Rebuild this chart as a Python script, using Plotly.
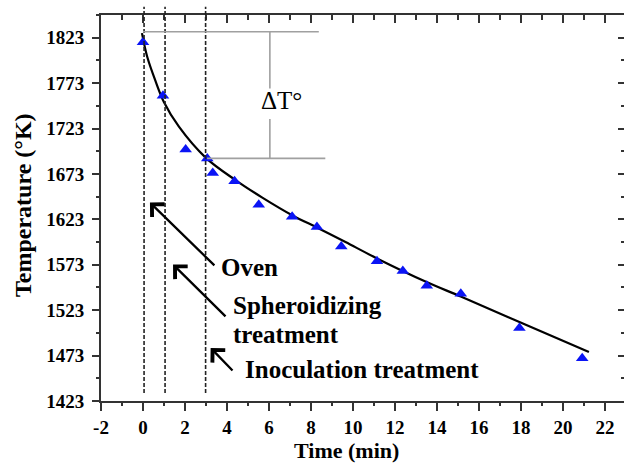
import plotly.graph_objects as go

# measured points (time in min, temperature in K)
time_pts = [0.0, 0.95, 2.03, 3.06, 3.32, 4.36, 5.51, 7.1, 8.28, 9.44, 11.14, 12.37, 13.51, 15.13, 17.92, 20.91]
temp_pts = [1818, 1759, 1700, 1690, 1674, 1665, 1639, 1626, 1614.5, 1593, 1577, 1566, 1550, 1541, 1503.5, 1470]

# fitted curve
fit_time = [-0.05, 0.2, 0.6, 1.0, 1.71, 2.98, 4.42, 5.68, 7.1, 8.37, 9.64, 11.14, 13.5, 15.13, 17.92, 21.23]
fit_temp = [1828, 1802, 1775, 1752, 1725, 1691, 1666, 1647, 1627.6, 1613, 1598, 1580, 1554, 1538, 1510, 1477]

# process stage markers (vertical dashed lines)
stage_times = [0.05, 1.05, 2.98]

x_ticks = [-2, 0, 2, 4, 6, 8, 10, 12, 14, 16, 18, 20, 22]
x_labels = ["-2", "0", "2", "4", "6", "8", "10", "12", "14", "16", "18", "20", "22"]
y_ticks = [1423, 1473, 1523, 1573, 1623, 1673, 1723, 1773, 1823]

FONT = "Liberation Serif"
AX = "#333333"

# plot-area geometry in pixels (for converting title positions)
W, H = 624, 464
L, R, T, B = 101, 0, 15, 63
PW, PH = W - L - R, H - T - B

fig = go.Figure()
fig.add_trace(go.Scatter(x=fit_time, y=fit_temp, mode="lines",
                         line=dict(color="black", width=2.2, shape="spline", smoothing=1.0),
                         showlegend=False, hoverinfo="skip"))
fig.add_trace(go.Scatter(x=time_pts, y=temp_pts, mode="markers",
                         marker=dict(symbol="triangle-up", size=11, color="#0a14f5"),
                         showlegend=False))
# dummy trace for mirrored (inside-tick) top/right axes
fig.add_trace(go.Scatter(x=[None], y=[None], xaxis="x2", yaxis="y2", showlegend=False, hoverinfo="skip"))

xr = [-2, 22.9]
yr = [1423, 1848]

fig.update_layout(
    width=W, height=H,
    margin=dict(l=L, r=R, t=T, b=B),
    paper_bgcolor="white", plot_bgcolor="white",
    font=dict(family=FONT, color="black"),
    xaxis=dict(range=xr, tickvals=x_ticks, ticktext=x_labels, ticks="outside", ticklen=8, tickwidth=2,
               tickcolor=AX, showline=True, linecolor=AX, linewidth=2, showgrid=False, zeroline=False,
               minor=dict(dtick=1, tick0=0, ticks="outside", ticklen=3, tickwidth=2, tickcolor=AX),
               tickfont=dict(family=FONT, size=19, weight="bold", color="black"),
               automargin=False),
    yaxis=dict(range=yr, tickvals=y_ticks, ticks="outside", ticklen=7, tickwidth=2, tickcolor=AX,
               showline=True, linecolor=AX, linewidth=2, showgrid=False, zeroline=False,
               minor=dict(dtick=25, tick0=1423, ticks="outside", ticklen=3, tickwidth=2, tickcolor=AX),
               tickfont=dict(family=FONT, size=19, weight="bold", color="black"),
               ticklabelstandoff=4,
               automargin=False),
    xaxis2=dict(range=xr, overlaying="x", side="top", anchor="y2", tickvals=x_ticks, ticks="inside", ticklen=8,
                tickwidth=2, tickcolor=AX, showline=True, linecolor=AX, linewidth=2, showgrid=False,
                zeroline=False, showticklabels=False,
                minor=dict(dtick=1, tick0=0, ticks="inside", ticklen=5, tickwidth=2, tickcolor=AX)),
    yaxis2=dict(range=yr, overlaying="y", side="right", anchor="x2", tickvals=y_ticks, ticks="inside", ticklen=6,
                tickwidth=2, tickcolor=AX, showline=True, linecolor=AX, linewidth=2, showgrid=False,
                zeroline=False, showticklabels=False,
                minor=dict(dtick=25, tick0=1423, ticks="inside", ticklen=3, tickwidth=2, tickcolor=AX)),
)

# axis titles (paper coords are relative to the plot area)
fig.add_annotation(x=(346 - L) / PW, y=(H - B - 450) / PH, xref="paper", yref="paper", text="Time (min)",
                   showarrow=False, xanchor="center", yanchor="middle",
                   font=dict(family=FONT, size=22, weight="bold", color="black"))
fig.add_annotation(x=(23 - L) / PW, y=(H - B - 205) / PH, xref="paper", yref="paper", text="Temperature (°K)",
                   showarrow=False, xanchor="center", yanchor="middle", textangle=-90,
                   font=dict(family=FONT, size=24, weight="bold", color="black"))

# vertical dashed stage lines (extend slightly above the frame)
for t in stage_times:
    fig.add_shape(type="line", xref="x", yref="paper", x0=t, x1=t, y0=0.0207, y1=1.0215,
                  line=dict(color="#222222", width=1.6, dash="4px,2px"))

# Delta T bracket (gray)
GR = "#a0a0a0"
fig.add_shape(type="line", xref="x", yref="y", x0=0.0, x1=8.37, y0=1829.6, y1=1829.6, line=dict(color=GR, width=1.6))
fig.add_shape(type="line", xref="x", yref="y", x0=3.05, x1=8.68, y0=1690.1, y1=1690.1, line=dict(color=GR, width=1.6))
fig.add_shape(type="line", xref="x", yref="y", x0=6.04, x1=6.04, y0=1829.6, y1=1767.2, line=dict(color=GR, width=1.6))
fig.add_shape(type="line", xref="x", yref="y", x0=6.04, x1=6.04, y0=1733.4, y1=1690.1, line=dict(color=GR, width=1.6))
fig.add_annotation(x=6.58, y=1754.4, xref="x", yref="y", text="ΔT°", showarrow=False,
                   font=dict(family=FONT, size=25, color="black"))

# arrows
arrows = [((0.33, 1641.6), (3.47, 1570.7)),
          ((1.43, 1573.3), (4.0, 1514.5)),
          ((3.22, 1481.4), (4.33, 1455.0))]
for (hx, hy), (tx, ty) in arrows:
    fig.add_annotation(x=hx, y=hy, ax=tx, ay=ty, xref="x", yref="y", axref="x", ayref="y",
                       text="", showarrow=True, arrowhead=4, arrowsize=1.5, arrowwidth=2.3,
                       arrowcolor="black", standoff=0, startstandoff=0)

labels = [("Oven", 3.62, 1570.3), ("Spheroidizing", 4.2, 1528.5), ("treatment", 4.2, 1496.5),
          ("Inoculation treatment", 4.76, 1457.9)]
for txt, lx, ly in labels:
    fig.add_annotation(x=lx, y=ly, xref="x", yref="y", text=txt, showarrow=False, xanchor="left",
                       yanchor="middle", font=dict(family=FONT, size=25, weight="bold", color="black"))

fig.write_html("out.html")
